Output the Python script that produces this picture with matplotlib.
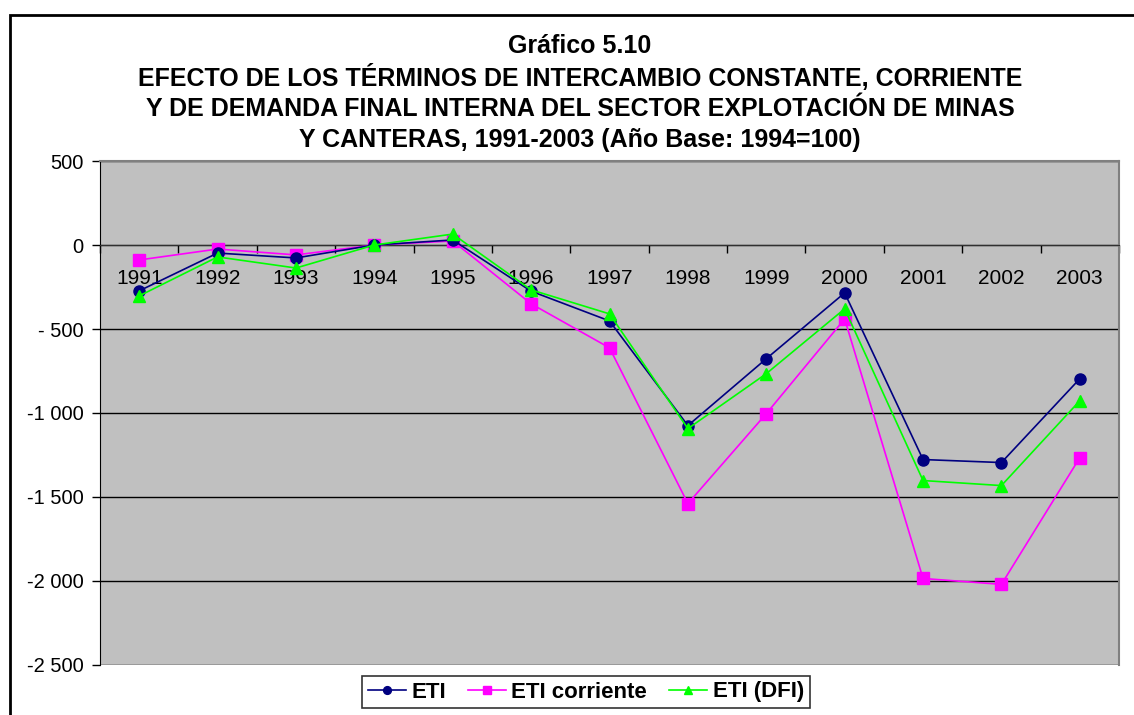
import numpy as np
import matplotlib
matplotlib.use("Agg")
import matplotlib.pyplot as plt
from matplotlib.patches import Rectangle
from matplotlib.ticker import FixedLocator, FuncFormatter

plt.rcParams['font.family'] = ['Liberation Sans', 'DejaVu Sans']

years = ['1991', '1992', '1993', '1994', '1995', '1996', '1997',
         '1998', '1999', '2000', '2001', '2002', '2003']
eti = [-273, -48, -77, 0, 30, -275, -452, -1075, -677, -285, -1277, -1295, -796]
eti_corriente = [-89, -24, -59, 0, 24, -350, -612, -1539, -1004, -440, -1985, -2020, -1266]
eti_dfi = [-303, -71, -137, 0, 65, -267, -410, -1093, -766, -380, -1402, -1432, -927]

title_lines = [
    'Gráfico 5.10',
    'EFECTO DE LOS TÉRMINOS DE INTERCAMBIO CONSTANTE, CORRIENTE',
    'Y DE DEMANDA FINAL INTERNA DEL SECTOR EXPLOTACIÓN DE MINAS',
    'Y CANTERAS, 1991-2003 (Año Base: 1994=100)',
]

W, H = 1134, 715
fig = plt.figure(figsize=(W / 100, H / 100), dpi=100)
ax = fig.add_axes([100 / W, 50 / H, 1019 / W, 504 / H])
ax.set_facecolor('#C0C0C0')

x = np.arange(len(years))
ax.plot(x, eti, color='#000080', lw=1.2, marker='o', ms=8, label='ETI', zorder=4)
ax.plot(x, eti_corriente, color='#FF00FF', lw=1.2, marker='s', ms=8,
        label='ETI corriente', zorder=3)
ax.plot(x, eti_dfi, color='#00FF00', lw=1.2, marker='^', ms=9, label='ETI (DFI)', zorder=5)

ax.set_xlim(-0.5, len(years) - 0.5)
ax.set_ylim(-2500, 500)

# y axis: Excel-style number format with space as thousands separator
def fmt(v, pos):
    s = f'{abs(v):,.0f}'.replace(',', ' ')
    if v < 0:
        return ('- ' + s) if abs(v) < 1000 else ('-' + s)
    return s

ax.yaxis.set_major_locator(FixedLocator(np.arange(-2500, 501, 500)))
ax.yaxis.set_major_formatter(FuncFormatter(fmt))
ax.tick_params(axis='y', length=6, width=1, labelsize=14.5, pad=6, color='black')
ax.grid(axis='y', color='black', lw=1)
ax.set_axisbelow(True)

# x axis crosses at zero, ticks between categories, labels centred
ax.spines['bottom'].set_position(('data', 0))
ax.spines['bottom'].set_color('#303030')
ax.xaxis.set_major_locator(FixedLocator(np.arange(-0.5, len(years), 1)))
ax.xaxis.set_major_formatter(FuncFormatter(lambda v, p: ''))
ax.xaxis.set_minor_locator(FixedLocator(x))
ax.set_xticklabels(years, minor=True)
ax.tick_params(axis='x', which='major', direction='out', length=6, width=1, color='black')
ax.tick_params(axis='x', which='minor', length=0, labelsize=15, pad=17)

for side in ['top', 'right']:
    ax.spines[side].set_color('#808080')
    ax.spines[side].set_linewidth(1.5)
ax.spines['left'].set_color('black')

# chart frame
fig.patches.append(Rectangle((10 / W, -0.1), 1.2, 1.1 - 15 / H, transform=fig.transFigure,
                             fill=False, edgecolor='black', lw=2, clip_on=False))

for i, line in enumerate(title_lines):
    fig.text(580 / W, 1 - (46 + i * 31.5) / H, line, ha='center', va='center',
             fontsize=18, fontweight='bold')

leg = fig.legend(loc='center', bbox_to_anchor=(586 / W, 1 - 692 / H), ncol=3,
                 prop={'weight': 'bold', 'size': 16}, frameon=True, fancybox=False,
                 edgecolor='black', handlelength=1.7, handletextpad=0.25,
                 columnspacing=1.0, borderpad=0.25, markerscale=0.7)
leg.get_frame().set_linewidth(1.2)

fig.savefig('out.png', dpi=100)
